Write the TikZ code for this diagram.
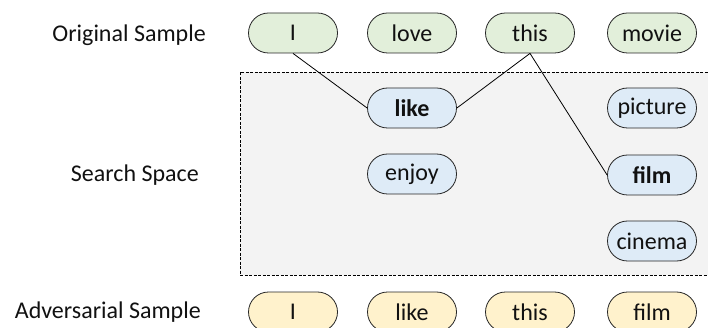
\documentclass[tikz,border=0pt]{standalone}
\usepackage{fontspec}
\setmainfont{Carlito}
\definecolor{gfill}{HTML}{E2EFDA}
\definecolor{bfill}{HTML}{DEEBF7}
\definecolor{yfill}{HTML}{FFF2CC}
\definecolor{boxfill}{HTML}{F3F3F3}
\definecolor{txt}{HTML}{111111}
\tikzset{
  tok/.style={rounded rectangle, draw=black!85, line width=0.8pt, minimum width=89pt, minimum height=40pt, inner sep=0pt, font=\fontsize{24}{28}\selectfont, text=txt},
  gtok/.style={tok, fill=gfill},
  btok/.style={tok, fill=bfill},
  ytok/.style={tok, fill=yfill},
  lab/.style={anchor=east, font=\fontsize{24}{28}\selectfont, text=txt, inner sep=0pt},
  link/.style={line width=0.8pt, black}
}
\usetikzlibrary{shapes.misc}
\begin{document}
\begin{tikzpicture}[x=1pt,y=-1pt]
\useasboundingbox (0,0) rectangle (708,328);
\node[draw=black, dash pattern=on 3pt off 1.5pt, line width=0.7pt, fill=boxfill, minimum width=472pt, minimum height=203pt, inner sep=0pt] (space) at (476,173.5) {};
\node[lab] (l1) at (206,35) {Original Sample};
\node[lab] (l2) at (199,175) {Search Space};
\node[lab] (l3) at (201,312) {Adversarial Sample};
\node[gtok] (o1) at (293,33) {I};
\node[gtok] (o2) at (412,33) {love};
\node[gtok] (o3) at (530,33) {this};
\node[gtok] (o4) at (652,33) {movie};
\node[btok] (like) at (412,108) {\textbf{like}};
\node[btok] (picture) at (652,108) {picture};
\node[btok] (enjoy) at (412,174) {enjoy};
\node[btok] (film) at (652,175) {\textbf{film}};
\node[btok] (cinema) at (652,241) {cinema};
\node[ytok] (a1) at (293,312) {I};
\node[ytok] (a2) at (412,312) {like};
\node[ytok] (a3) at (530,312) {this};
\node[ytok] (a4) at (652,312) {film};
\draw[link] (o1.south) -- (like.west);
\draw[link] (o3.south) -- (like.east);
\draw[link] (o3.south) -- (film.west);
\end{tikzpicture}
\end{document}
